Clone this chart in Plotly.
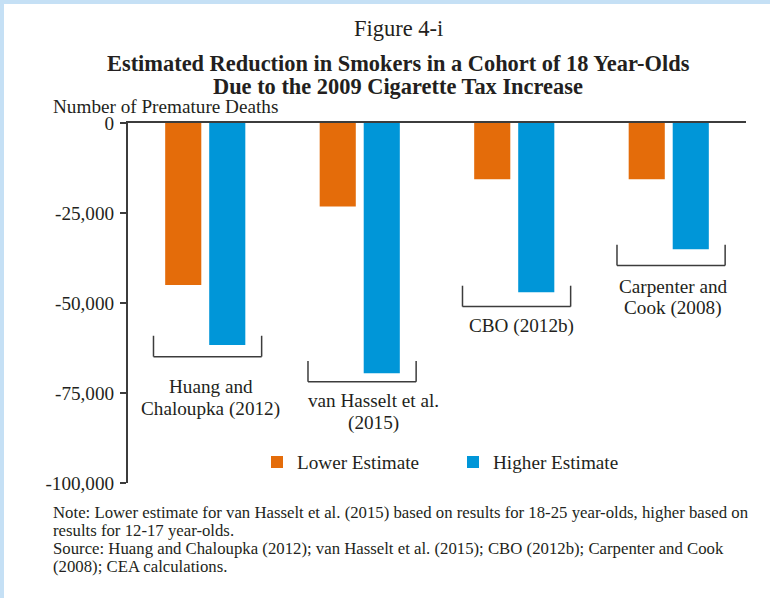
import plotly.graph_objects as go

# ---------------- data ----------------
categories = ["Huang and Chaloupka (2012)", "van Hasselt et al. (2015)",
              "CBO (2012b)", "Carpenter and Cook (2008)"]
category_label_lines = [["Huang and", "Chaloupka (2012)"],
                        ["van Hasselt et al.", "(2015)"],
                        ["CBO (2012b)"],
                        ["Carpenter and", "Cook (2008)"]]
lower_estimate = [-45000, -23200, -15600, -15600]
higher_estimate = [-61700, -69500, -47000, -35100]
series_names = ["Lower Estimate", "Higher Estimate"]
y_tick_values = [0, -25000, -50000, -75000, -100000]
y_tick_labels = ["0", "-25,000", "-50,000", "-75,000", "-100,000"]
note_lines = [
    "Note: Lower estimate for van Hasselt et al. (2015) based on results for 18-25 year-olds, higher based on",
    "results for 12-17 year-olds.",
    "Source: Huang and Chaloupka (2012); van Hasselt et al. (2015); CBO (2012b); Carpenter and Cook",
    "(2008); CEA calculations.",
]

# ---------------- layout helpers (positions, not data) ----------------
bracket_bottom = [-64900, -71900, -51000, -39600]
bracket_height = 5800
bracket_left, bracket_right = -0.335, 0.365
label_first_line = [-73250, -77220, -56390, -45280]
label_line_step = 6100
label_dx = [0.037, 0.087, 0.05, 0.03]

FONT = "Liberation Serif"
TXT = "#231f20"
AX = "#3c3c3c"
ORANGE = "#E46C0A"
BLUE = "#0096D8"
BORDER = "#C5E0F5"
FS = 19.2

W, H = 770, 598
L, R, T, B = 128, 24, 123, 115
PW, PH = W - L - R, H - T - B


def px_x(px):
    return (px - L) / PW


def px_y(py):
    return (H - B - py) / PH


fig = go.Figure()
fig.add_trace(go.Bar(x=categories, y=lower_estimate, name=series_names[0],
                     marker=dict(color=ORANGE, line=dict(width=0))))
fig.add_trace(go.Bar(x=categories, y=higher_estimate, name=series_names[1],
                     marker=dict(color=BLUE, line=dict(width=0))))

shapes = []
annotations = []
for i, cat in enumerate(categories):
    xl, xr = i + bracket_left, i + bracket_right
    yb, yt = bracket_bottom[i], bracket_bottom[i] + bracket_height
    line = dict(color=AX, width=1.5)
    shapes.append(dict(type="line", xref="x", yref="y", x0=xl, x1=xr, y0=yb, y1=yb, line=line))
    shapes.append(dict(type="line", xref="x", yref="y", x0=xl, x1=xl, y0=yb, y1=yt, line=line))
    shapes.append(dict(type="line", xref="x", yref="y", x0=xr, x1=xr, y0=yb, y1=yt, line=line))
    for j, txt in enumerate(category_label_lines[i]):
        annotations.append(dict(text=txt, xref="x", yref="y", x=i + label_dx[i],
                                y=label_first_line[i] - j * label_line_step,
                                xanchor="center", yanchor="middle", showarrow=False,
                                font=dict(family=FONT, size=FS, color=TXT)))

# border stripes
shapes.append(dict(type="rect", xref="paper", yref="paper", layer="below",
                   x0=px_x(0), x1=px_x(W), y0=px_y(4), y1=px_y(0),
                   fillcolor=BORDER, line=dict(width=0)))
shapes.append(dict(type="rect", xref="paper", yref="paper", layer="below",
                   x0=px_x(0), x1=px_x(4), y0=px_y(H), y1=px_y(0),
                   fillcolor=BORDER, line=dict(width=0)))

# titles
annotations.append(dict(text="Figure 4-i", xref="paper", yref="paper", x=px_x(398), y=px_y(28),
                        xanchor="center", yanchor="middle", showarrow=False,
                        font=dict(family=FONT, size=22.5, color=TXT)))
annotations.append(dict(text="<b>Estimated Reduction in Smokers in a Cohort of 18 Year-Olds</b>",
                        xref="paper", yref="paper", x=px_x(398), y=px_y(64),
                        xanchor="center", yanchor="middle", showarrow=False,
                        font=dict(family=FONT, size=22.4, color=TXT)))
annotations.append(dict(text="<b>Due to the 2009 Cigarette Tax Increase</b>",
                        xref="paper", yref="paper", x=px_x(398), y=px_y(87),
                        xanchor="center", yanchor="middle", showarrow=False,
                        font=dict(family=FONT, size=22.4, color=TXT)))
annotations.append(dict(text="Number of Premature Deaths", xref="paper", yref="paper",
                        x=px_x(51), y=px_y(107), xanchor="left", yanchor="middle",
                        showarrow=False, font=dict(family=FONT, size=FS, color=TXT)))
note_y = [512, 530, 548, 566]
for k, t in enumerate(note_lines):
    annotations.append(dict(text=t, xref="paper", yref="paper", x=px_x(51), y=px_y(note_y[k]),
                            xanchor="left", yanchor="middle", showarrow=False,
                            font=dict(family=FONT, size=16.75, color=TXT)))

fig.update_layout(
    width=W, height=H,
    margin=dict(l=L, r=R, t=T, b=B, pad=0),
    paper_bgcolor="white", plot_bgcolor="white",
    barmode="group", bargap=0.43, bargroupgap=0.18,
    font=dict(family=FONT, size=FS, color=TXT),
    showlegend=True,
    legend=dict(orientation="h", x=px_x(257), y=px_y(462), xanchor="left", yanchor="middle",
                xref="paper", yref="paper", font=dict(family=FONT, size=FS, color=TXT),
                bgcolor="rgba(0,0,0,0)", borderwidth=0, entrywidth=151, entrywidthmode="pixels",
                traceorder="normal", itemclick=False),
    shapes=shapes,
    annotations=annotations,
    xaxis=dict(type="category", range=[-0.5, 3.5], side="top", showline=True, linecolor=AX,
               linewidth=1.5, showticklabels=False, ticks="", showgrid=False, zeroline=False,
               fixedrange=True),
    yaxis=dict(range=[-100000, 0], tickvals=y_tick_values, ticktext=y_tick_labels,
               showline=True, linecolor=AX, linewidth=2, ticks="outside", ticklen=6,
               tickwidth=1.5, tickcolor=AX, showgrid=False, zeroline=False,
               ticklabelstandoff=2, tickfont=dict(family=FONT, size=FS, color=TXT),
               fixedrange=True),
)

fig.write_html("out.html")
